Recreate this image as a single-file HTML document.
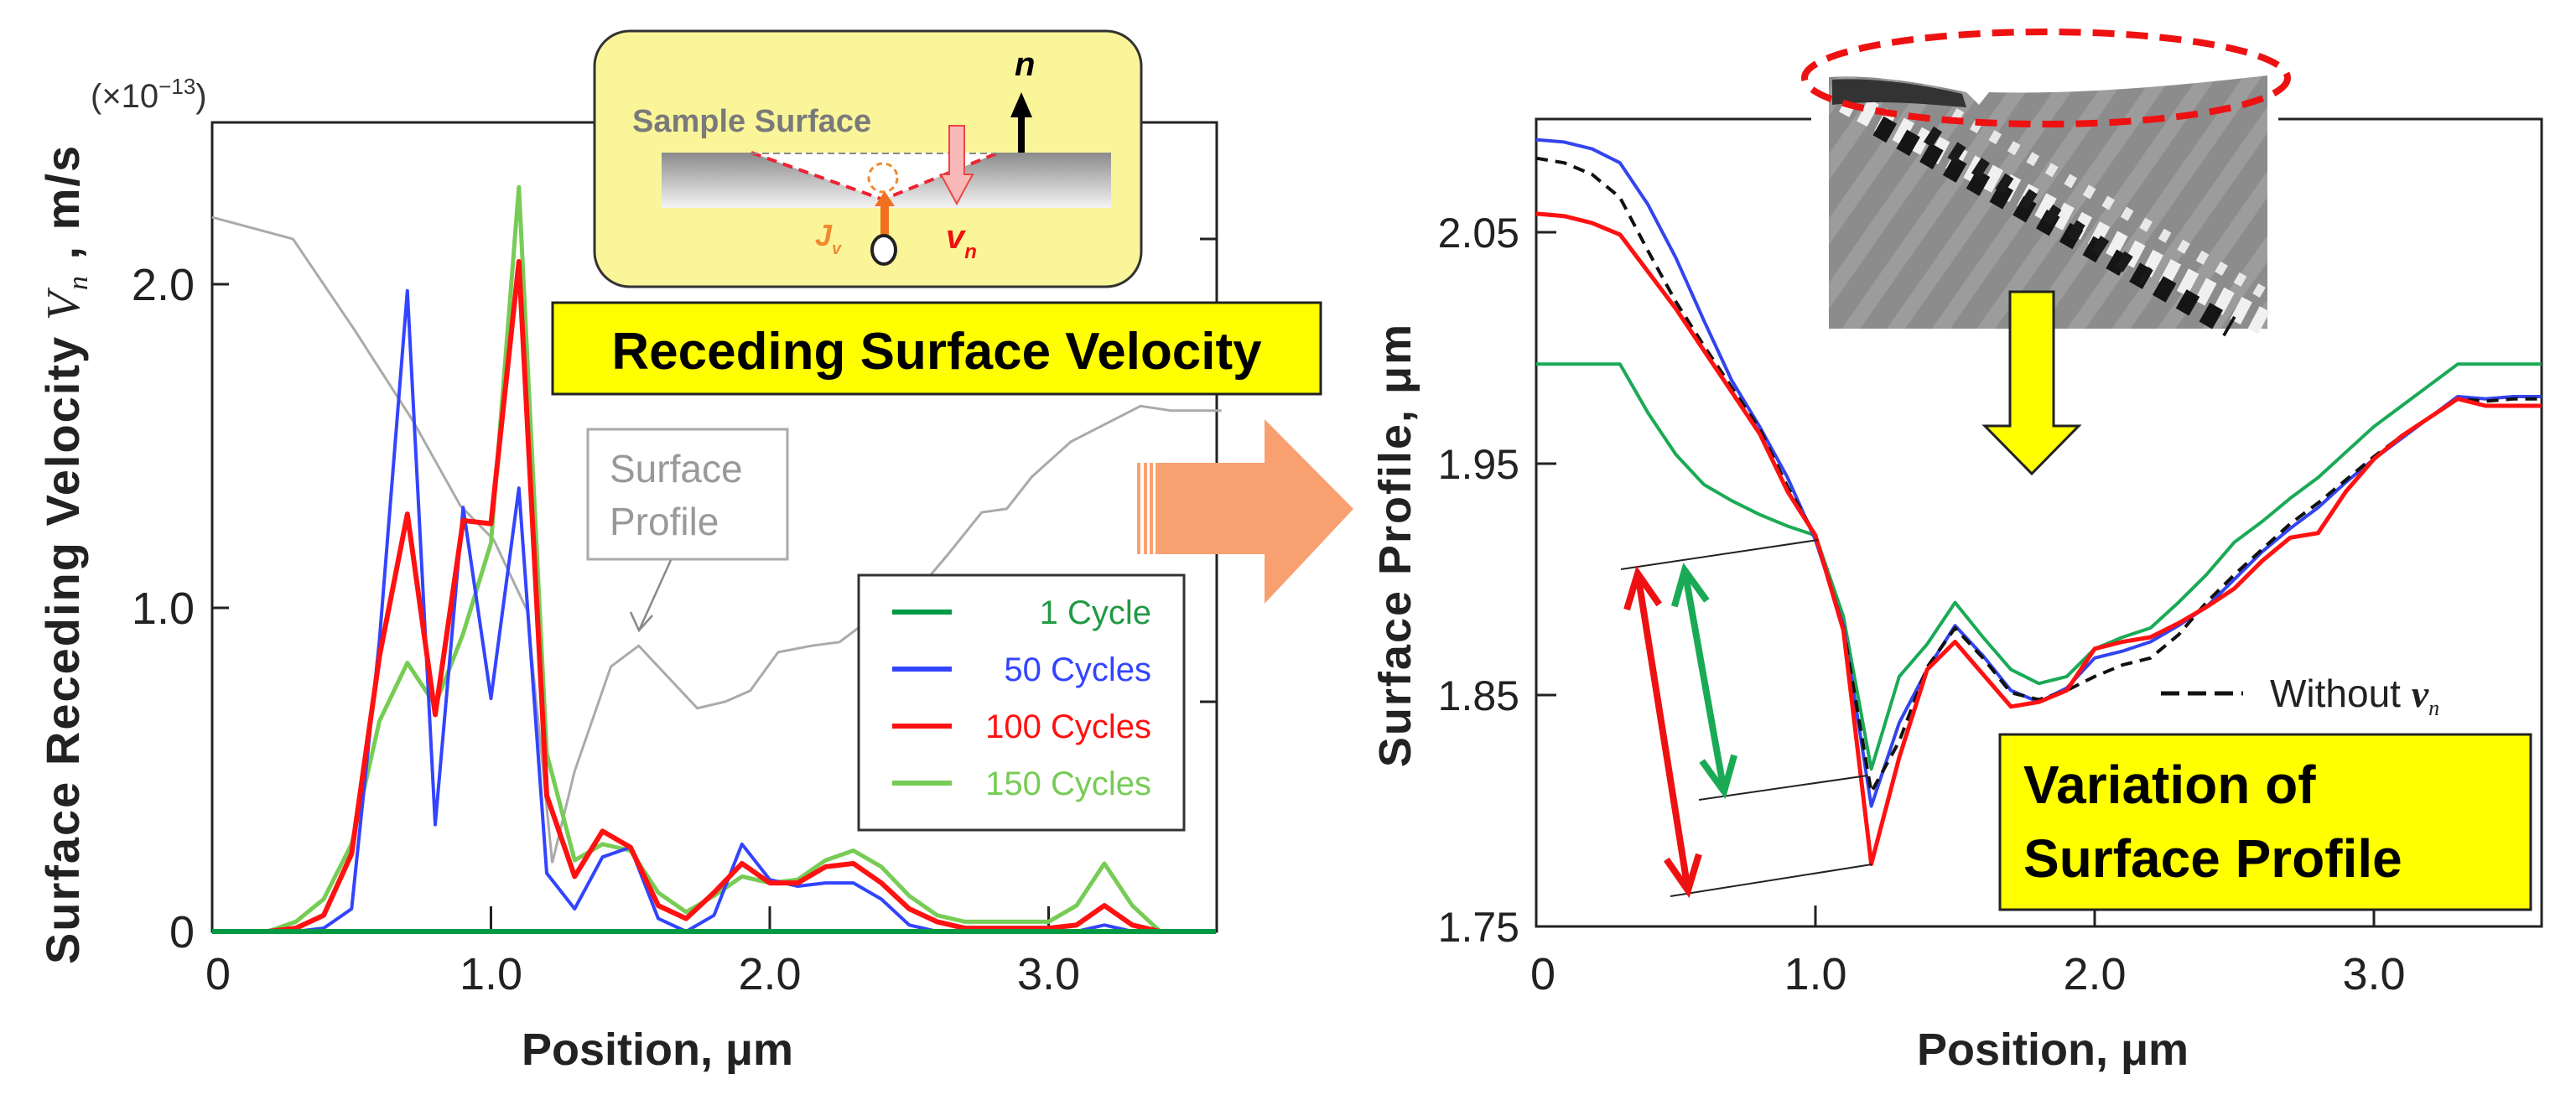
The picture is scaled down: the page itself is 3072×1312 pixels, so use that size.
<!DOCTYPE html>
<html><head><meta charset="utf-8"><style>
html,body{margin:0;padding:0;background:#fff}
svg{display:block}
text{font-family:"Liberation Sans",sans-serif}
</style></head><body>
<svg id="fig" width="3072" height="1312" viewBox="0 0 3072 1312" xmlns="http://www.w3.org/2000/svg">
<defs>
<linearGradient id="surfGrad" x1="0" y1="0" x2="0" y2="1"><stop offset="0" stop-color="#8a8a8a"/><stop offset="1" stop-color="#f4f4f4"/></linearGradient>
<pattern id="stripes" width="44" height="44" patternUnits="userSpaceOnUse" patternTransform="rotate(35)"><rect width="44" height="44" fill="#8c8c8c"/><rect width="18" height="44" fill="#9c9c9c"/></pattern>
</defs>
<g id="left"></g>
<g id="right"></g>
<g id="ann"></g>
</svg>
<script>
// ---- Left chart data ----
const xPos = [0,0.1,0.2,0.3,0.4,0.5,0.6,0.7,0.8,0.9,1.0,1.1,1.2,1.3,1.4,1.5,1.6,1.7,1.8,1.9,2.0,2.1,2.2,2.3,2.4,2.5,2.6,2.7,2.8,2.9,3.0,3.1,3.2,3.3,3.4,3.5,3.6];
const vel1 = [0,0,0,0,0,0,0,0,0,0,0,0,0,0,0,0,0,0,0,0,0,0,0,0,0,0,0,0,0,0,0,0,0,0,0,0,0];
const vel50 = [0,0,0,0,0.01,0.07,0.9,1.98,0.33,1.31,0.72,1.37,0.18,0.07,0.23,0.26,0.04,0.0,0.05,0.27,0.16,0.14,0.15,0.15,0.10,0.02,0,0,0,0,0,0,0.02,0,0,0,0];
const vel100 = [0,0,0,0.01,0.05,0.24,0.85,1.29,0.67,1.27,1.26,2.07,0.42,0.17,0.31,0.26,0.08,0.04,0.12,0.21,0.15,0.15,0.20,0.21,0.15,0.07,0.03,0.01,0.01,0.01,0.01,0.02,0.08,0.02,0,0,0];
const vel150 = [0,0,0,0.03,0.10,0.27,0.65,0.83,0.70,0.92,1.20,2.30,0.55,0.22,0.27,0.25,0.12,0.06,0.11,0.17,0.15,0.16,0.22,0.25,0.20,0.11,0.05,0.03,0.03,0.03,0.03,0.08,0.21,0.08,0,0,0];
const grayX = [0,0.29,0.51,0.72,0.89,1.01,1.13,1.22,1.30,1.43,1.53,1.74,1.84,1.93,2.03,2.15,2.25,2.37,2.49,2.64,2.76,2.85,2.94,3.08,3.33,3.44,3.62];
const grayY = [2.0047,2.000,1.9804,1.9607,1.9424,1.935,1.9197,1.8652,1.885,1.9076,1.9121,1.8986,1.900,1.9024,1.9107,1.9121,1.9129,1.9183,1.9212,1.9319,1.9409,1.9417,1.9486,1.9562,1.9639,1.9629,1.9629];
const leftYTicks = [0,1.0,2.0];
const leftYTickLabels = ["0","1.0","2.0"];
const xTicks = [0,1.0,2.0,3.0];
const xTickLabels = ["0","1.0","2.0","3.0"];
const legendLabels = ["1 Cycle","50 Cycles","100 Cycles","150 Cycles"];
// ---- Right chart data ----
const prof50 = [2.090,2.089,2.086,2.080,2.062,2.039,2.012,1.986,1.966,1.944,1.917,1.880,1.802,1.838,1.861,1.880,1.867,1.852,1.847,1.853,1.866,1.869,1.873,1.880,1.888,1.900,1.912,1.922,1.931,1.942,1.952,1.961,1.970,1.979,1.978,1.979,1.979];
const prof100 = [2.058,2.057,2.054,2.049,2.033,2.017,1.999,1.981,1.963,1.938,1.919,1.878,1.777,1.823,1.861,1.873,1.859,1.845,1.847,1.852,1.870,1.873,1.875,1.881,1.888,1.896,1.908,1.918,1.920,1.938,1.952,1.962,1.970,1.978,1.975,1.975,1.975];
const profNoV = [2.082,2.080,2.075,2.065,2.042,2.020,2.001,1.983,1.965,1.940,1.919,1.879,1.808,1.830,1.862,1.879,1.866,1.851,1.848,1.852,1.858,1.863,1.866,1.876,1.890,1.902,1.913,1.924,1.933,1.943,1.953,1.962,1.970,1.978,1.977,1.978,1.978];
const prof1 = [1.993,1.993,1.993,1.993,1.972,1.954,1.941,1.934,1.928,1.923,1.919,1.884,1.818,1.858,1.872,1.890,1.875,1.861,1.855,1.858,1.870,1.875,1.879,1.890,1.902,1.916,1.925,1.935,1.944,1.955,1.966,1.975,1.984,1.993,1.993,1.993,1.993];
const rightYTicks = [1.75,1.85,1.95,2.05];
const rightYTickLabels = ["1.75","1.85","1.95","2.05"];

const NS="http://www.w3.org/2000/svg";
function mk(parent,tag,attrs,txt){const e=document.createElementNS(NS,tag);for(const k in attrs)e.setAttribute(k,attrs[k]);if(txt!==undefined)e.textContent=txt;parent.appendChild(e);return e;}
const xL=v=>253+v*332.5, yL=v=>1111-v*386, yG=v=>285+(2.0-v)*5520;
const xR=v=>1832+v*333, yR=v=>1105-(v-1.75)*2760;
const L=document.getElementById('left'), R=document.getElementById('right'), A=document.getElementById('ann');
function pts(xs,ys,fx,fy){return xs.map((x,i)=>fx(x).toFixed(1)+','+fy(ys[i]).toFixed(1)).join(' ');}

// Left frame
let e;
e=mk(L,'rect',{x:253,y:146,width:1198,height:965,fill:'none',stroke:'#222','stroke-width':3});


leftYTicks.forEach((t,i)=>{
  e=mk(L,'line',{x1:253,x2:273,y1:yL(t),y2:yL(t),stroke:'#222','stroke-width':3});
  
  
  e=mk(L,'text',{x:232,y:yL(t)+19,'font-size':54,'text-anchor':'end',fill:'#222'},leftYTickLabels[i]);
  
  
});
[2.0,1.9].forEach(t=>{
  e=mk(L,'line',{x1:1451,x2:1431,y1:yG(t),y2:yG(t),stroke:'#222','stroke-width':3});
  
  
});
xTicks.forEach((t,i)=>{
  e=mk(L,'line',{x1:xL(t),x2:xL(t),y1:1111,y2:1081,stroke:'#222','stroke-width':3});
  
  
  e=mk(L,'text',{x:xL(t)+(i==0?7:0),y:1180,'font-size':54,'text-anchor':'middle',fill:'#222'},xTickLabels[i]);
  
  
});
e=mk(L,'text',{x:784,y:1270,'font-size':54,'font-weight':'bold','text-anchor':'middle',fill:'#222'},'Position, μm');


e=mk(L,'text',{x:0,y:0,'font-size':56,'font-weight':'bold','text-anchor':'middle',fill:'#222',transform:'translate(94,661) rotate(-90)','letter-spacing':'2'});


e.innerHTML='Surface Receding Velocity <tspan font-style="italic" font-weight="normal" font-family="Liberation Serif">V</tspan><tspan font-style="italic" font-weight="normal" font-family="Liberation Serif" font-size="34" dy="10">n</tspan><tspan dy="-10"> , m/s</tspan>';
e=mk(L,'text',{x:108,y:128,'font-size':40,fill:'#333'});


e.innerHTML='(×10<tspan font-size="26" dy="-16">−13</tspan><tspan dy="16">)</tspan>';

// gray surface profile
e=mk(L,'polyline',{points:pts(grayX,grayY,xL,yG),fill:'none',stroke:'#aaa','stroke-width':3});


// series
const lseries=[[vel150,'#77cc55',5,'series-150-cycles'],[vel50,'#3344ff',4,'series-50-cycles'],[vel100,'#ff1111',6,'series-100-cycles'],[vel1,'#009a44',6,'series-1-cycle']];
lseries.forEach(s=>{
  e=mk(L,'polyline',{points:pts(xPos,s[0],xL,yL),fill:'none',stroke:s[1],'stroke-width':s[2],'stroke-linejoin':'round'});
  
  
});
// surface profile label
e=mk(L,'rect',{x:701,y:512,width:238,height:155,fill:'#fff',stroke:'#aaa','stroke-width':3});


e=mk(L,'text',{x:727,y:575,'font-size':46,fill:'#999'},'Surface');


e=mk(L,'text',{x:727,y:638,'font-size':46,fill:'#999'},'Profile');


e=mk(L,'polyline',{points:'800,668 762,752',fill:'none',stroke:'#888','stroke-width':2.5});


e=mk(L,'polyline',{points:'752,730 762,752 778,734',fill:'none',stroke:'#888','stroke-width':2.5});


// legend
e=mk(L,'rect',{x:1024,y:686,width:388,height:304,fill:'#fff',stroke:'#333','stroke-width':3});


const legCols=['#009a44','#3344ff','#ff1111','#77cc55'];
const legTxt=['#229944','#3344ff','#ff1111','#77cc55'];
legendLabels.forEach((lab,i)=>{
  const y=736+i*68;
  e=mk(L,'line',{x1:1064,x2:1135,y1:y-6,y2:y-6,stroke:legCols[i],'stroke-width':6});
  
  
  e=mk(L,'text',{x:1373,y:y+8,'font-size':40,'text-anchor':'end',fill:legTxt[i]},lab);
  
  
});

// Yellow schematic box
e=mk(A,'rect',{x:709,y:37,width:652,height:305,rx:42,fill:'#fbf59a',stroke:'#333','stroke-width':3});


e=mk(A,'rect',{x:789,y:182,width:536,height:66,fill:'url(#surfGrad)'});


e=mk(A,'polygon',{points:'896,182 1053,238 1191,182',fill:'#fff',stroke:'none'});


e=mk(A,'polyline',{points:'896,182 1053,238 1191,182',fill:'none',stroke:'#ee2233','stroke-width':4,'stroke-dasharray':'12 8'});


e=mk(A,'line',{x1:896,x2:1191,y1:183,y2:183,stroke:'#888','stroke-width':2,'stroke-dasharray':'8 5'});


e=mk(A,'text',{x:754,y:157,'font-size':38,'font-weight':'bold',fill:'#7a7a7a'},'Sample Surface');


e=mk(A,'circle',{cx:1053,cy:212,r:17,fill:'none',stroke:'#f08a30','stroke-width':3,'stroke-dasharray':'7 5'});


e=mk(A,'polygon',{points:'1050,282 1050,246 1043,246 1055,228 1067,246 1060,246 1060,282',fill:'#f07020'});


e=mk(A,'ellipse',{cx:1054,cy:298,rx:14,ry:17,fill:'#fff',stroke:'#222','stroke-width':4});


e=mk(A,'polygon',{points:'1132,150 1150,150 1150,208 1160,208 1141,243 1122,208 1132,208',fill:'#f9b8b8',stroke:'#ee4444','stroke-width':2});


e=mk(A,'polygon',{points:'1214,182 1214,140 1205,140 1218,110 1231,140 1222,140 1222,182',fill:'#000'});


e=mk(A,'text',{x:1210,y:90,'font-size':40,'font-weight':'bold','font-style':'italic','font-family':'Liberation Serif',fill:'#000'},'n');


e=mk(A,'text',{x:972,y:293,'font-size':36,'font-weight':'bold','font-style':'italic','font-family':'Liberation Serif',fill:'#f08a30'});


e.innerHTML='J<tspan font-size="20" dy="10">v</tspan>';
e=mk(A,'text',{x:1128,y:296,'font-size':40,'font-weight':'bold','font-style':'italic','font-family':'Liberation Serif',fill:'#ee1111'});


e.innerHTML='v<tspan font-size="24" dy="12">n</tspan>';
// Receding Surface Velocity box
e=mk(A,'rect',{x:659,y:361,width:916,height:109,fill:'#ffff00',stroke:'#222','stroke-width':3});


e=mk(A,'text',{x:1117,y:440,'font-size':62,'font-weight':'bold','text-anchor':'middle',fill:'#000'},'Receding Surface Velocity');


// orange arrow
e=mk(A,'polygon',{points:'1378,552 1508,552 1508,500 1614,607 1508,720 1508,661 1378,661',fill:'#f8a070'});


[1356,1364,1371].forEach(x=>{
  e=mk(A,'rect',{x:x,y:552,width:4,height:109,fill:'#f8a070'});
  
  
});

// Right chart frame
e=mk(R,'path',{d:'M2160,142 L1832,142 L1832,1105 L3031,1105 L3031,142 L2717,142',fill:'none',stroke:'#222','stroke-width':3});


rightYTicks.forEach((t,i)=>{
  e=mk(R,'line',{x1:1832,x2:1856,y1:yR(t),y2:yR(t),stroke:'#222','stroke-width':3});
  
  
  e=mk(R,'text',{x:1812,y:yR(t)+18,'font-size':50,'text-anchor':'end',fill:'#222'},rightYTickLabels[i]);
  
  
});
xTicks.forEach((t,i)=>{
  e=mk(R,'line',{x1:xR(t),x2:xR(t),y1:1105,y2:1080,stroke:'#222','stroke-width':3});
  
  
  e=mk(R,'text',{x:xR(t)+(i==0?8:0),y:1180,'font-size':54,'text-anchor':'middle',fill:'#222'},xTickLabels[i]);
  
  
});
e=mk(R,'text',{x:2448,y:1270,'font-size':54,'font-weight':'bold','text-anchor':'middle',fill:'#222'},'Position, μm');


e=mk(R,'text',{x:0,y:0,'font-size':54,'font-weight':'bold','text-anchor':'middle',fill:'#222',transform:'translate(1682,650) rotate(-90)','letter-spacing':'2'},'Surface Profile, μm');


const rseries=[[prof1,'#1aaa55',4,null,'profile-1-cycle'],[prof50,'#3344ee',4,null,'profile-50-cycles'],[profNoV,'#111',4,'14 9','profile-without-vn'],[prof100,'#ff1111',5,null,'profile-100-cycles']];
rseries.forEach(s=>{
  const a={points:pts(xPos,s[0],xR,yR),fill:'none',stroke:s[1],'stroke-width':s[2],'stroke-linejoin':'round'};
  if(s[3])a['stroke-dasharray']=s[3];
  e=mk(R,'polyline',a);
  
  
});
// measurement guides
[[1933,679,2168,644],[2026,954,2227,925],[1992,1069,2232,1031]].forEach(l=>{
  e=mk(R,'line',{x1:l[0],y1:l[1],x2:l[2],y2:l[3],stroke:'#222','stroke-width':2});
  
  
});
function dbl(x1,y1,x2,y2,col,name){
  e=mk(R,'line',{x1:x1,y1:y1,x2:x2,y2:y2,stroke:col,'stroke-width':8});
  
  
  const ang=Math.atan2(y2-y1,x2-x1),h=45,w=0.45;
  [[x1,y1,ang],[x2,y2,ang+Math.PI]].forEach(p=>{
    const a1=p[2]+w,a2=p[2]-w;
    e=mk(R,'polyline',{points:`${p[0]+h*Math.cos(a1)},${p[1]+h*Math.sin(a1)} ${p[0]},${p[1]} ${p[0]+h*Math.cos(a2)},${p[1]+h*Math.sin(a2)}`,fill:'none',stroke:col,'stroke-width':8,'stroke-linejoin':'miter'});
    
    
  });
}
dbl(1953,684,2013,1062,'#ee1111','red-variation-arrow');
dbl(2009,680,2056,944,'#1aaa55','green-variation-arrow');
// without vn legend
e=mk(R,'line',{x1:2577,x2:2675,y1:827,y2:827,stroke:'#111','stroke-width':5,'stroke-dasharray':'22 10'});


e=mk(R,'text',{x:2707,y:843,'font-size':46,fill:'#222'});


e.innerHTML='Without <tspan font-family="Liberation Serif" font-style="italic" font-weight="bold">v</tspan><tspan font-family="Liberation Serif" font-style="italic" font-size="26" dy="10">n</tspan>';
// variation box
e=mk(R,'rect',{x:2385,y:876,width:633,height:209,fill:'#ffff00',stroke:'#222','stroke-width':3});


e=mk(R,'text',{x:2413,y:958,'font-size':64,'font-weight':'bold',fill:'#000'},'Variation of');


e=mk(R,'text',{x:2413,y:1046,'font-size':64,'font-weight':'bold',fill:'#000'},'Surface Profile');


// micrograph
const img=mk(R,'g',{});


mk(img,'path',{d:'M2181,92 C2230,88 2300,100 2345,110 L2360,125 L2372,110 C2450,112 2550,108 2704,90 L2704,392 L2181,392 Z',fill:'url(#stripes)'});
mk(img,'line',{x1:2200,y1:120,x2:2700,y2:385,stroke:'#f0f0f0','stroke-width':30,'stroke-dasharray':'14 10'});
mk(img,'line',{x1:2240,y1:150,x2:2660,y2:390,stroke:'#151515','stroke-width':26,'stroke-dasharray':'18 14'});
mk(img,'line',{x1:2300,y1:160,x2:2560,y2:330,stroke:'#1a1a1a','stroke-width':22,'stroke-dasharray':'12 22'});
mk(img,'line',{x1:2330,y1:135,x2:2700,y2:350,stroke:'#e8e8e8','stroke-width':14,'stroke-dasharray':'10 16'});
mk(img,'path',{d:'M2185,95 C2230,92 2290,100 2340,112 L2345,128 C2300,125 2250,118 2185,125 Z',fill:'#333'});
e=mk(R,'ellipse',{cx:2440,cy:93,rx:288,ry:55,fill:'none',stroke:'#ee1111','stroke-width':8,'stroke-dasharray':'26 14'});


e=mk(R,'polygon',{points:'2397,348 2449,348 2449,508 2479,508 2423,565 2367,508 2397,508',fill:'#ffff00',stroke:'#222','stroke-width':3});


</script>
</body></html>
